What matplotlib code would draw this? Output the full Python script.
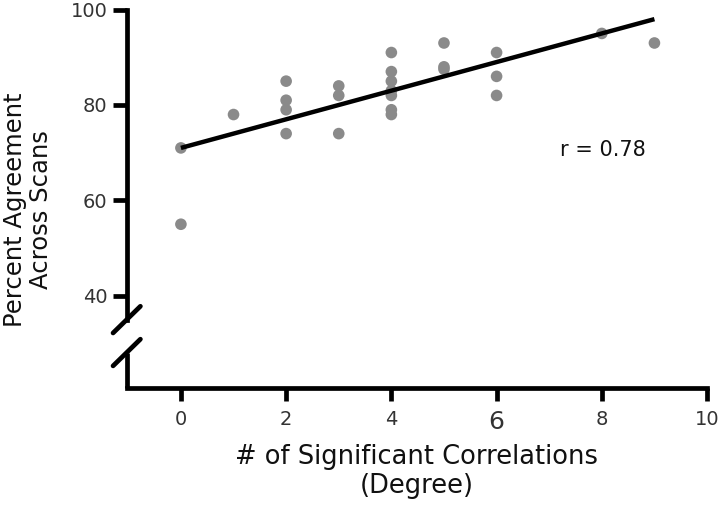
import matplotlib.pyplot as plt
import numpy as np

# degree (number of significant correlations) and percent agreement
degree = [0, 0, 1, 2, 2, 2, 2, 3, 3, 3, 4, 4, 4, 4, 4, 4, 4,
          5, 5, 5, 6, 6, 6, 8, 9]
agree = [71, 55, 78, 85, 81, 79, 74, 84, 82, 74, 91, 87, 85, 83, 82, 79, 78,
         93, 88, 87.5, 91, 86, 82, 95, 93]
fit_x = [0, 9]
fit_intercept = 71.0
fit_slope = 3.0
r_text = 'r = 0.78'
xticks = [0, 2, 4, 6, 8, 10]
yticks = [40, 60, 80, 100]

plt.rcParams['font.family'] = ['DejaVu Sans']

fig = plt.figure(figsize=(7.2, 5.05), dpi=100)
ax = fig.add_axes([0.176, 0.232, 0.806, 0.749])

ax.scatter(degree, agree, s=70, color='#8a8a8a', edgecolors='none', zorder=2)
fx = np.array(fit_x, dtype=float)
ax.plot(fx, fit_intercept + fit_slope * fx, color='black', lw=3.2, zorder=3,
        solid_capstyle='butt')

ax.text(7.2, 70.6, r_text, fontsize=15, color='#111111', va='center')

ax.set_xlim(-1.03, 10)
ax.set_ylim(20.7, 100)
ax.set_xticks(xticks)
ax.set_yticks(yticks)
ax.set_xticklabels([str(t) for t in xticks])
ax.set_yticklabels([str(t) for t in yticks])

for s in ['top', 'right', 'left']:
    ax.spines[s].set_visible(False)
ax.spines['bottom'].set_linewidth(3.4)
ax.spines['bottom'].set_capstyle('projecting')

# left axis drawn in two pieces with a break
lw = 3.4
ax.plot([-1.03, -1.03], [35.0, 100], color='black', lw=lw, clip_on=False,
        solid_capstyle='projecting', zorder=4)
ax.plot([-1.03, -1.03], [20.7, 28.1], color='black', lw=lw, clip_on=False,
        solid_capstyle='butt', zorder=4)
for yb in [35.0, 28.1]:
    ax.plot([-1.03 - 0.26, -1.03 + 0.26], [yb - 2.8, yb + 2.8], color='black',
            lw=lw, clip_on=False, solid_capstyle='round', zorder=4)

ax.tick_params(axis='both', which='major', direction='out', width=3.4,
               color='black', labelsize=14, labelcolor='#333333')
ax.tick_params(axis='y', length=10, pad=4)
ax.tick_params(axis='x', length=9, pad=7)
ax.get_xticklabels()[3].set_fontsize(18)

ax.set_xlabel('# of Significant Correlations\n(Degree)', fontsize=18.5,
              color='#111111', labelpad=7, linespacing=1.15)
fig.text(0.039, 0.585, 'Percent Agreement\nAcross Scans', fontsize=17.5,
         color='#111111', rotation=90, ha='center', va='center',
         multialignment='center', linespacing=1.1)

fig.savefig('out.png', dpi=100)
